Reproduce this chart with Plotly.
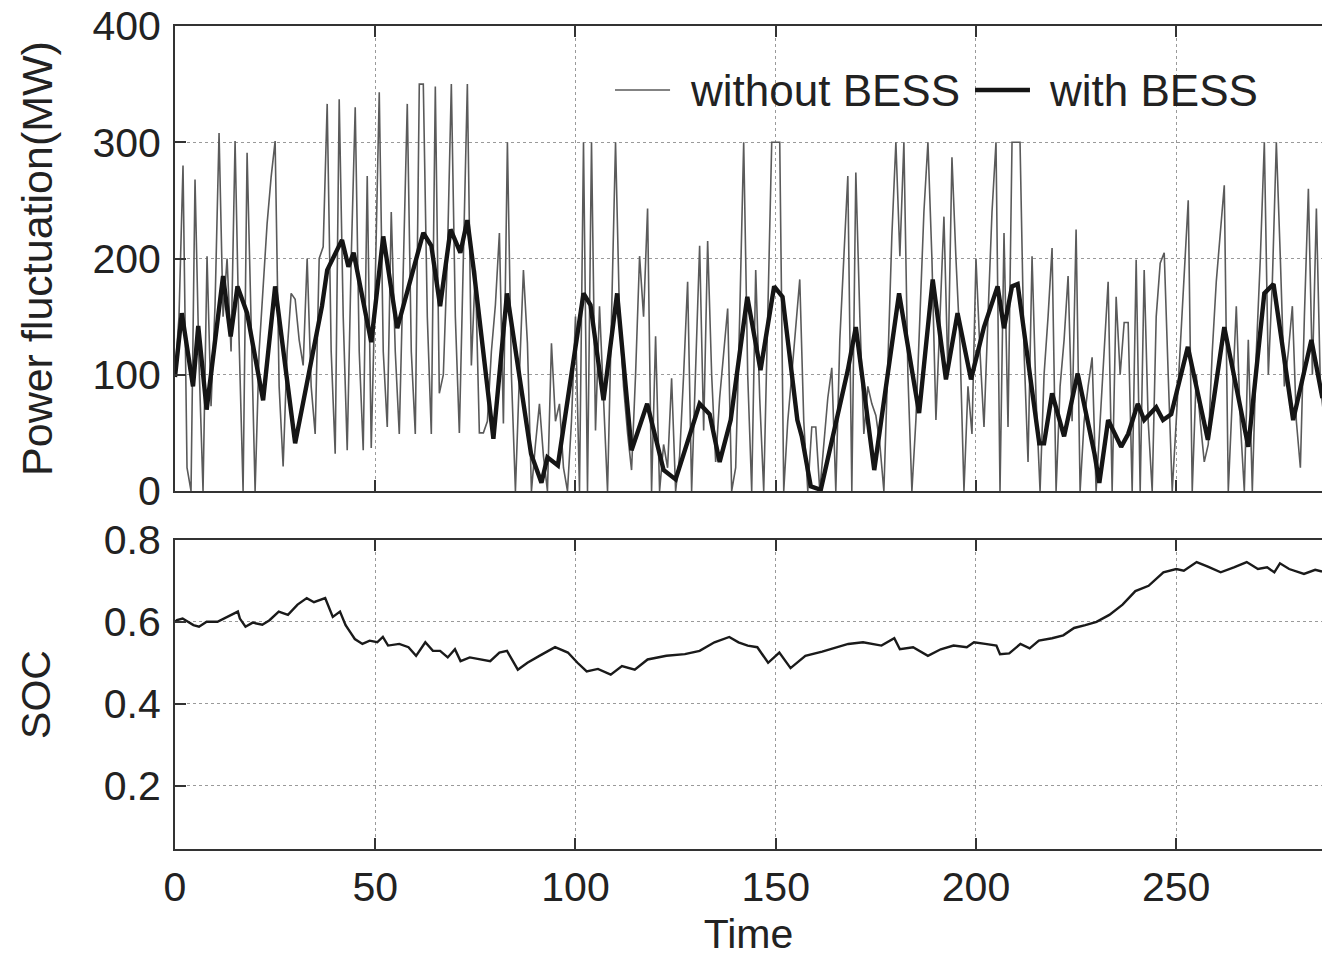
import plotly.graph_objects as go
from plotly.subplots import make_subplots

# ---------------- data ----------------
time_raw = list(range(0, 288))
p_without = [
    100, 150, 280, 20, 0, 268, 110, 0, 202, 73,
    160, 308, 150, 200, 120, 301, 130, 0, 291, 150,
    0, 120, 180, 230, 270, 301, 90, 21, 120, 170,
    165, 130, 108, 200, 90, 49, 200, 210, 333, 120,
    32, 337, 150, 35, 200, 330, 120, 35, 271, 37,
    180, 343, 120, 55, 240, 120, 49, 200, 333, 120,
    49, 350, 350, 150, 49, 348, 84, 100, 200, 350,
    150, 50, 200, 350, 108, 190, 50, 50, 60, 120,
    160, 222, 58, 300, 100, 0, 100, 190, 127, 0,
    40, 75, 30, 0, 127, 60, 75, 20, 0, 60,
    150, 0, 300, 0, 300, 52, 159, 80, 0, 150,
    300, 150, 90, 50, 18, 100, 202, 150, 243, 0,
    133, 0, 40, 20, 97, 0, 30, 100, 180, 0,
    100, 211, 52, 215, 100, 25, 80, 120, 157, 0,
    20, 150, 300, 100, 0, 190, 80, 0, 150, 300,
    300, 300, 0, 60, 100, 140, 182, 60, 0, 55,
    55, 0, 40, 80, 106, 0, 130, 200, 271, 0,
    274, 150, 49, 90, 75, 65, 40, 0, 120, 220,
    300, 202, 300, 100, 0, 61, 150, 240, 300, 200,
    61, 150, 236, 100, 287, 200, 127, 0, 90, 49,
    200, 120, 55, 150, 240, 300, 0, 222, 55, 300,
    300, 300, 120, 25, 202, 80, 0, 100, 150, 209,
    0, 90, 130, 185, 60, 225, 0, 60, 90, 115,
    0, 60, 120, 180, 0, 167, 100, 145, 145, 0,
    199, 0, 190, 60, 0, 150, 196, 205, 100, 0,
    60, 120, 180, 250, 0, 100, 60, 25, 40, 120,
    180, 220, 263, 0, 80, 159, 60, 0, 130, 0,
    120, 200, 300, 100, 180, 300, 200, 90, 120, 159,
    60, 20, 150, 260, 100, 243, 90, 60,
]

time_bess = [
    0, 1.7, 4.5, 5.8, 7.9, 12, 13.9, 15.6, 18, 22,
    25, 30, 36.7, 38, 41.7, 43.3, 44.6, 48, 49, 52,
    55.5, 62, 64, 66.2, 68.8, 71.25, 73, 74.6, 78.75, 79.5,
    82.9, 88.9, 91.5, 93, 95.6, 102, 103.75, 107, 110.4, 114,
    117.9, 122, 125, 128.75, 131, 133.5, 136, 138.75, 142.9, 146.2,
    149.6, 151.7, 155.4, 156.5, 158.75, 161.25, 168, 170, 174.6, 180.8,
    185.8, 189.2, 192.5, 195.4, 198.75, 202, 205.4, 207, 209, 210.4,
    215.8, 217, 219, 222, 225.4, 229.6, 230.8, 233, 236.25, 238,
    240.4, 242, 245, 246.7, 248.75, 252.9, 257.9, 262, 268, 272,
    274.3, 279.2, 283.75, 286.5,
]
p_with = [
    98, 153, 90, 142, 70, 185, 133, 176, 153, 78,
    176, 41, 159, 190, 216, 193, 205, 142, 128, 219,
    140, 222, 211, 159, 225, 205, 233, 190, 61, 45,
    170, 32, 7, 29, 22, 170, 160, 78, 170, 35,
    75, 18, 10, 52, 75, 66, 25, 61, 167, 104,
    176, 167, 61, 47, 4, 1, 104, 141, 18, 170,
    67, 182, 96, 153, 96, 141, 176, 140, 176, 178,
    41, 41, 84, 47, 101, 32, 7, 61, 38, 49,
    75, 61, 72, 61, 66, 124, 44, 141, 38, 170,
    178, 61, 130, 80,
]

time_soc = [
    0, 0.5, 1.9, 4.6, 6.0, 7.9, 10.6, 13, 15.7, 16.2,
    17.6, 19.4, 21.8, 23.6, 25.9, 28.2, 30.6, 32.9, 34.7, 37.5,
    39.4, 41.2, 42.6, 44, 44.9, 46.8, 48.6, 50.5, 51.9, 53.2,
    56, 58.3, 60.2, 62.5, 64.4, 66.2, 68.1, 69.9, 71.3, 73.6,
    76.4, 78.7, 81, 82.9, 85.6, 88, 91.2, 94.9, 98.1, 100.5,
    102.8, 105.6, 108.8, 111.6, 114.8, 118, 122.7, 127.3, 131, 134.7,
    138.4, 140.7, 143, 145.4, 148.1, 150.9, 153.7, 157.4, 161.6, 165.3,
    168.1, 171.8, 176.4, 179.6, 181, 184.3, 188, 191.2, 194.4, 197.7,
    199.5, 202.3, 205.1, 206, 208.3, 211.1, 213.4, 215.7, 219, 221.8,
    224.5, 227.3, 230.1, 233.3, 236.6, 239.8, 243.1, 246.8, 250, 251.9,
    255.1, 257.9, 261.1, 264.4, 267.6, 270.4, 272.7, 274.5, 275.9, 278.2,
    281.9, 284.7, 286.4,
]
soc = [
    0.60, 0.604, 0.608, 0.592, 0.588, 0.60, 0.60, 0.612, 0.625, 0.608,
    0.588, 0.598, 0.593, 0.604, 0.625, 0.617, 0.642, 0.658, 0.648, 0.658,
    0.612, 0.625, 0.592, 0.571, 0.558, 0.546, 0.554, 0.55, 0.563, 0.542,
    0.546, 0.538, 0.517, 0.55, 0.529, 0.529, 0.513, 0.533, 0.504, 0.513,
    0.508, 0.504, 0.525, 0.529, 0.483, 0.50, 0.518, 0.538, 0.525, 0.50,
    0.479, 0.485, 0.471, 0.492, 0.483, 0.508, 0.517, 0.521, 0.529, 0.55,
    0.563, 0.55, 0.542, 0.538, 0.50, 0.525, 0.487, 0.517, 0.527, 0.538,
    0.546, 0.55, 0.542, 0.56, 0.533, 0.538, 0.517, 0.533, 0.542, 0.538,
    0.55, 0.546, 0.542, 0.521, 0.523, 0.546, 0.535, 0.554, 0.56, 0.567,
    0.585, 0.592, 0.60, 0.617, 0.642, 0.675, 0.688, 0.721, 0.729, 0.725,
    0.746, 0.735, 0.721, 0.733, 0.746, 0.729, 0.733, 0.721, 0.743, 0.729,
    0.717, 0.727, 0.723,
]

x_ticks = [0, 50, 100, 150, 200, 250]
p_ticks = [0, 100, 200, 300, 400]
soc_ticks = [0.2, 0.4, 0.6, 0.8]
soc_tick_text = ["0.2", "0.4", "0.6", "0.8"]
legend_labels = ["without BESS", "with BESS"]

# ---------------- figure ----------------
FONT = "Liberation Sans, Arial, Helvetica, sans-serif"
TXT = "#222222"
AX = "#333333"
GRID = "#9a9a9a"
C_WITHOUT = "#5a5a5a"
C_WITH = "#151515"

fig = make_subplots(rows=2, cols=1, shared_xaxes=True)

fig.add_trace(go.Scatter(x=time_raw, y=p_without, mode="lines", name=legend_labels[0],
                         showlegend=False, line=dict(color=C_WITHOUT, width=1.6)), row=1, col=1)
fig.add_trace(go.Scatter(x=time_bess, y=p_with, mode="lines", name=legend_labels[1],
                         showlegend=False, line=dict(color=C_WITH, width=4.4)), row=1, col=1)
fig.add_trace(go.Scatter(x=time_soc, y=soc, mode="lines", name="SOC", showlegend=False,
                         line=dict(color="#1a1a1a", width=2.4)), row=2, col=1)

xcommon = dict(range=[0, 286.4], tickvals=x_ticks, ticks="inside", ticklen=11,
               tickwidth=1.5, tickcolor=AX, showline=True, linecolor=AX, linewidth=2,
               mirror="ticks", showgrid=True, gridcolor=GRID, griddash="dot", gridwidth=1.2,
               zeroline=False, tickfont=dict(family=FONT, size=41, color=TXT))

fig.update_xaxes(**xcommon)
fig.update_xaxes(showticklabels=False, row=1, col=1)
fig.update_xaxes(showticklabels=True, ticklabelstandoff=1,
                 title=dict(text="Time", font=dict(family=FONT, size=41, color=TXT), standoff=10),
                 row=2, col=1)

ycommon = dict(ticks="inside", ticklen=11, tickwidth=1.5, tickcolor=AX, showline=True,
               linecolor=AX, linewidth=2, mirror=False, showgrid=True, gridcolor=GRID,
               griddash="dot", gridwidth=1.2, zeroline=False, ticklabelstandoff=4,
               tickfont=dict(family=FONT, size=41, color=TXT))

fig.update_yaxes(**ycommon)
fig.update_yaxes(range=[0, 400], tickvals=p_ticks, domain=[0.435, 1.0],
                 title=dict(text="Power fluctuation(MW)",
                            font=dict(family=FONT, size=43, color=TXT), standoff=26),
                 row=1, col=1)
fig.update_yaxes(range=[0.045, 0.8], tickvals=soc_ticks, ticktext=soc_tick_text,
                 domain=[0.0, 0.3755],
                 title=dict(text="SOC", font=dict(family=FONT, size=41, color=TXT), standoff=40),
                 row=2, col=1)

# manual legend (line samples + real text)
leg_y = 0.9222
fig.add_shape(type="line", xref="paper", yref="paper", x0=0.3836, x1=0.4316,
              y0=leg_y, y1=leg_y, line=dict(color=C_WITHOUT, width=1.6))
fig.add_shape(type="line", xref="paper", yref="paper", x0=0.6975, x1=0.7454,
              y0=leg_y, y1=leg_y, line=dict(color=C_WITH, width=4.4))
fig.add_annotation(xref="paper", yref="paper", x=0.4475, y=leg_y, xanchor="left",
                   yanchor="middle", text=legend_labels[0], showarrow=False,
                   font=dict(family=FONT, size=44, color=TXT))
fig.add_annotation(xref="paper", yref="paper", x=0.7600, y=leg_y, xanchor="left",
                   yanchor="middle", text=legend_labels[1], showarrow=False,
                   font=dict(family=FONT, size=44, color=TXT))

fig.update_layout(
    width=1322, height=959,
    margin=dict(l=175, r=0, t=26, b=110),
    paper_bgcolor="white", plot_bgcolor="white",
    showlegend=False,
)

fig.write_html("out.html")
